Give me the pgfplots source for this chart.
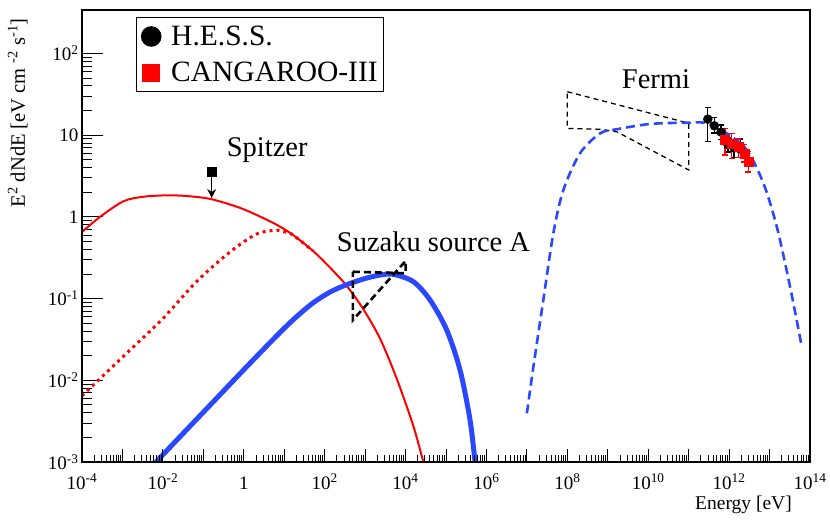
\documentclass[border=0pt]{standalone}
\usepackage{fontspec}
\setmainfont{Liberation Serif}
\usepackage{pgfplots}
\pgfplotsset{compat=1.18}
\usetikzlibrary{arrows.meta}

\definecolor{rootblue}{RGB}{42,72,255}
\newcommand{\e}[1]{10\textsuperscript{#1}}

\pgfplotstableread{
x       y     ep   em
2.97e11 15.7  6.3  7.4
4.32e11 13.0  3.3  2.4
6.32e11 10.9  2.4  2.15
9.42e11 7.59  1.65 1.36
1.32e12 6.97  1.5  1.7
1.87e12 6.77  2.2  1.5
}\hess

\pgfplotstableread{
x       y     ep   em
7.94e11 8.73  3.4  3.0
1.16e12 7.96  2.4  2.84
1.70e12 7.23  1.75 1.95
2.38e12 6.00  1.6  1.3
2.99e12 4.74  1.5  1.2
}\cangaroo

\begin{document}
\begin{tikzpicture}
% 1px of the reference = 1pt here
\begin{axis}[name=main,
  xmode=log, ymode=log,
  xmin=1e-4, xmax=1e14, ymin=1e-3, ymax=340,
  scale only axis, width=728pt, height=452pt,
  axis line style={line width=1.3pt},
  tick align=inside, tick pos=left,
  tick style={black, line width=0.9pt},
  tick label style={font=\fontsize{19}{21}\selectfont},
  xtick=\empty, xminorticks=false,
  ytickten={-3,...,2},
  yticklabels={\e{-3},\e{-2},\e{-1},1,10,\e{2}},
  major tick length=21pt, minor tick length=10pt,
  legend style={at={(0.0742,0.985)}, anchor=north west, draw=black,
    line width=1.4pt, font=\fontsize{29.5}{31}\selectfont,
    inner xsep=4pt, inner ysep=6.5pt, row sep=11pt,
    nodes={inner sep=2pt}},
  legend cell align=left,
]

% H.E.S.S.
\addplot[only marks, mark=*, mark size=4.5pt, black,
  legend image code/.code={\path[draw=none, fill=none] (-10.5pt,-10.5pt) rectangle (18pt,10.5pt);
    \fill[black, draw=none] (0pt,0pt) circle (10.3pt);},
  error bars/.cd, y dir=both, y explicit,
  error bar style={line width=1.2pt, black},
  error mark options={rotate=90, mark size=3pt, line width=1.2pt, black},
  ] table[x=x, y=y, y error plus=ep, y error minus=em] {\hess};
\addlegendentry{H.E.S.S.}

% CANGAROO-III
\addplot[only marks, mark=square*, mark size=4.5pt, red,
  legend image code/.code={\path[draw=none, fill=none] (-10.5pt,-10.5pt) rectangle (18pt,10.5pt);
    \fill[red, draw=none] (-9pt,-9pt) rectangle (9pt,9pt);},
  error bars/.cd, y dir=both, y explicit,
  error bar style={line width=1.2pt, red},
  error mark options={rotate=90, mark size=3pt, line width=1.2pt, red},
  ] table[x=x, y=y, y error plus=ep, y error minus=em] {\cangaroo};
\addlegendentry{CANGAROO-III}

% synchrotron, dotted component
\addplot[forget plot, red, line width=3pt, dash pattern=on 3pt off 4pt, smooth] coordinates {
 (1e-4,6.46e-3) (2.79e-4,0.01047) (1.54e-3,0.02344) (1.02e-2,0.0575) (6.86e-2,0.162)
 (0.457,0.372) (2.09,0.617) (6.53,0.684) (11.5,0.646) (16.8,0.596) (52.5,0.380)
};
% synchrotron, total
\addplot[forget plot, red, line width=2pt, smooth] coordinates {
 (1e-4,0.653) (2.79e-4,1.0) (1.05e-3,1.549) (3.16e-3,1.758) (1e-2,1.828)
 (3.16e-2,1.811) (0.146,1.660) (0.807,1.288) (3.69,0.923) (7.87,0.759)
 (16.8,0.596) (52.5,0.380) (135,0.240) (351,0.143) (903,0.0741) (2340,0.0324)
 (6050,0.01047) (15600,2.754e-3) (27500,1e-3)
};
% Suzaku source A model
\addplot[forget plot, rootblue, line width=5pt, smooth] coordinates {
 (6.76e-3,1e-3) (0.0265,2.04e-3) (0.177,5.47e-3) (1.18,0.01466) (7.87,0.0385)
 (20.4,0.0603) (52.5,0.0891) (135,0.120) (351,0.148) (1000,0.176) (2340,0.194)
 (4990,0.198) (15600,0.161) (40300,0.0961) (1.04e5,0.0413) (2.22e5,0.0134)
 (3.93e5,3.27e-3) (5.22e5,1e-3)
};
% Suzaku bowtie
\addplot[forget plot, black, line width=2.6pt, dash pattern=on 7pt off 4pt] coordinates {
 (500,0.213) (1e4,0.204) (1e4,0.288) (500,0.0547) (500,0.213)
};
% Fermi bowtie
\addplot[forget plot, black, line width=1.3pt, dash pattern=on 5pt off 4pt] coordinates {
 (1e8,34.0) (1e11,14.0) (1e11,3.75) (1.67e9,11.0) (6.44e8,11.8) (1e8,12.1) (1e8,34.0)
};
% gamma-ray model
\addplot[forget plot, rootblue, line width=2.6pt, dash pattern=on 9pt off 5pt, smooth] coordinates {
 (1e7,3.94e-3) (1.45e7,0.0147) (2.55e7,0.0961) (4.51e7,0.629) (7.98e7,2.13)
 (2.06e8,6.0) (6.44e8,10.5) (1.67e9,11.8) (1.11e10,13.7) (8.97e10,14.2)
 (2.80e11,14.0) (8.75e11,10.5) (2.73e12,6.59) (7.04e12,2.58) (1.51e13,0.759)
 (3.21e13,0.140) (6.26e13,0.0258)
};
% Spitzer upper limit
\addplot[forget plot, only marks, mark=square*, mark size=4.5pt, black] coordinates {(0.161,3.52)};
\addplot[forget plot, black, line width=1.3pt, -{Stealth[length=9pt,width=9pt]}] coordinates {(0.161,3.1) (0.161,1.70)};

\node[anchor=base west, inner sep=0pt, font=\fontsize{28.5}{30}\selectfont] at (axis cs:0.378,5.41) {Spitzer};
\node[anchor=base west, inner sep=0pt, font=\fontsize{28.5}{30}\selectfont] at (axis cs:199,0.375) {Suzaku source A};
\node[anchor=base west, inner sep=0pt, font=\fontsize{28.5}{30}\selectfont] at (axis cs:2.21e9,37.5) {Fermi};
\end{axis}

% second frame: only the x ticks, which are shorter in the reference
\begin{axis}[name=xax,
  xmode=log, ymode=log,
  xmin=1e-4, xmax=1e14, ymin=1e-3, ymax=340,
  scale only axis, width=728pt, height=452pt,
  axis line style={line width=1.3pt},
  tick align=inside, tick pos=left,
  tick style={black, line width=0.9pt},
  tick label style={font=\fontsize{19}{21}\selectfont},
  ytick=\empty,
  xtickten={-4,...,14},
  xticklabels={\e{-4},{},\e{-2},{},1,{},\e{2},{},\e{4},{},\e{6},{},\e{8},{},\e{10},{},\e{12},{},\e{14}},
  xticklabel style={anchor=base, yshift=-27pt},
  major tick length=13pt, minor tick length=7pt,
]
\end{axis}

\node[anchor=base east, inner sep=0pt, font=\fontsize{19.5}{21}\selectfont]
  at ([shift={(-18pt,-48pt)}]main.south east) {Energy [eV]};
\node[rotate=90, anchor=base east, inner sep=0pt, font=\fontsize{20.5}{22}\selectfont]
  at ([shift={(-57pt,-8pt)}]main.north west) {E\textsuperscript{2} dNdE [eV cm~\textsuperscript{-2} s\textsuperscript{-1}]};

\pgfresetboundingbox
\path ([shift={(-82pt,-59pt)}]main.south west) rectangle ([shift={(20pt,10pt)}]main.north east);
\end{tikzpicture}
\end{document}
